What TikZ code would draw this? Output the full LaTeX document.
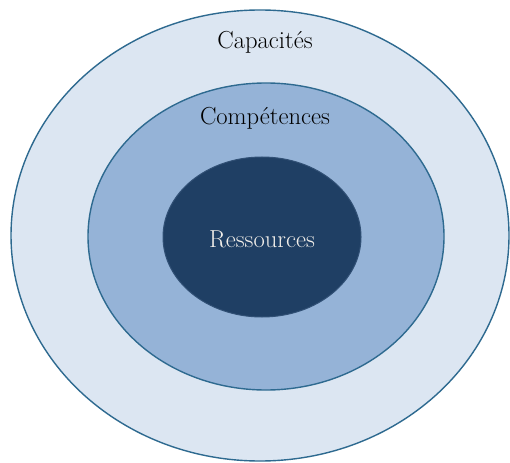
\documentclass[tikz,border=0pt]{standalone}
\definecolor{outerfill}{HTML}{DCE6F2}
\definecolor{midfill}{HTML}{95B3D7}
\definecolor{innerfill}{HTML}{1F3F64}
\definecolor{ringline}{HTML}{2E6A90}
\definecolor{lighttext}{HTML}{F2EFEA}
\begin{document}
\begin{tikzpicture}[x=1pt,y=-1pt,
  ring/.style={draw=ringline, line width=1.4pt},
  lbl/.style={font=\fontsize{24.6}{28}\selectfont, inner sep=0pt}]
\useasboundingbox (0,0) rectangle (510,462);
\fill[white] (0,0) rectangle (510,462);
\path[ring, fill=outerfill] (260,235.5) ellipse [x radius=249, y radius=225.5];
\path[ring, fill=midfill] (266,236.5) ellipse [x radius=178, y radius=153.5];
\path[fill=innerfill, draw=innerfill!85!midfill, line width=1pt] (262,237) ellipse [x radius=99, y radius=80];
\node[lbl] (cap) at (265,42) {Capacités};
\node[lbl] (comp) at (265,118) {Compétences};
\node[lbl, text=lighttext] (res) at (262,239) {Ressources};
\end{tikzpicture}
\end{document}
